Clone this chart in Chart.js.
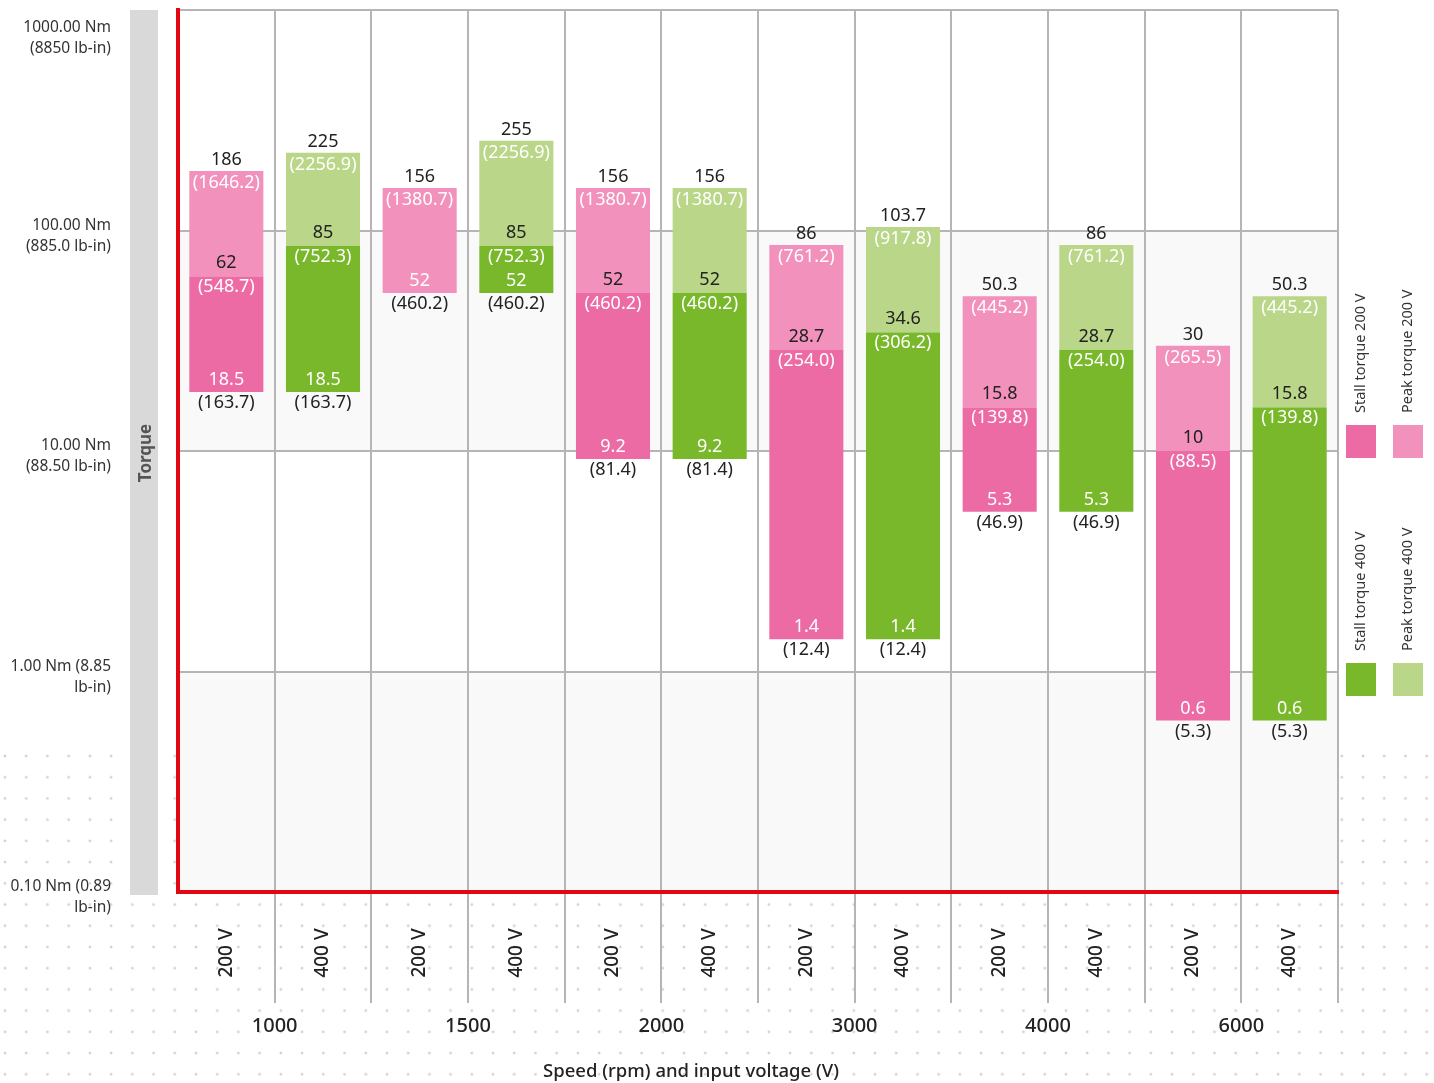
<!DOCTYPE html>
<html>
<head>
<meta charset="utf-8">
<script src="https://cdn.jsdelivr.net/npm/chart.js@4/dist/chart.umd.min.js"></script>
<style>
body { margin: 0; background: #fff; }
#wrap { position: relative; width: 1434px; height: 1083px; }
#dots {
    position: absolute; left: 0; top: 745px; width: 1434px; height: 338px;
    background-image: radial-gradient(circle, #d2d2d2 1.1px, transparent 1.7px);
    background-size: 21.23px 21.23px;
    background-position: -5.6px 0.4px;
}
canvas { position: absolute; left: 0; top: 0; }
</style>
</head>
<body>
<div id="wrap">
    <div id="dots"></div>
    <canvas id="torque-chart" width="1434" height="1083"></canvas>
</div>
<script>
// categories
const voltages = ['200 V','400 V','200 V','400 V','200 V','400 V','200 V','400 V','200 V','400 V','200 V','400 V'];
const speeds = ['1000','1500','2000','3000','4000','6000'];

// torque in Nm
const stallMin = [18.5, 18.5, 52, 52, 9.2, 9.2, 1.4, 1.4, 5.3, 5.3, 0.6, 0.6];
const stallMax = [62, 85, 52, 85, 52, 52, 28.7, 34.6, 15.8, 28.7, 10, 15.8];
const peak     = [186, 225, 156, 255, 156, 156, 86, 103.7, 50.3, 86, 30, 50.3];

// same values in lb-in
const stallMinLb = [163.7, 163.7, 460.2, 460.2, 81.4, 81.4, 12.4, 12.4, 46.9, 46.9, 5.3, 5.3];
const stallMaxLb = [548.7, 752.3, 460.2, 752.3, 460.2, 460.2, 254.0, 306.2, 139.8, 254.0, 88.5, 139.8];
const peakLb     = [1646.2, 2256.9, 1380.7, 2256.9, 1380.7, 1380.7, 761.2, 917.8, 445.2, 761.2, 265.5, 445.2];

const yTicks = [0.1, 1, 10, 100, 1000];
const yTickLabels = [
    ['0.10 Nm (0.89', 'lb-in)'],
    ['1.00 Nm (8.85', 'lb-in)'],
    ['10.00 Nm', '(88.50 lb-in)'],
    ['100.00 Nm', '(885.0 lb-in)'],
    ['1000.00 Nm', '(8850 lb-in)']
];
const legendLabels = ['Stall torque 200 V', 'Peak torque 200 V', 'Stall torque 400 V', 'Peak torque 400 V'];

const PINK_DARK = '#ec6ba5', PINK_LIGHT = '#f291bb', GREEN_DARK = '#78b82a', GREEN_LIGHT = '#b9d689';
const TXT = '#222';
const FONT = '"Noto Sans", sans-serif';

const is200 = i => voltages[i] === '200 V';
function rangeData(lo, hi, want200) {
    return voltages.map((v, i) => (is200(i) === want200 && lo[i] < hi[i]) ? [lo[i], hi[i]] : null);
}

const decor = {
    id: 'decor',
    beforeDraw(chart) {
        const {ctx, chartArea: a, scales: {y}} = chart;
        ctx.save();
        ctx.fillStyle = '#fff';
        ctx.fillRect(a.left, a.top, a.right - a.left, a.bottom - a.top);
        ctx.fillStyle = '#f9f9f9';
        [[10, 100], [0.1, 1]].forEach(([lo, hi]) => {
            const t = y.getPixelForValue(hi), b = y.getPixelForValue(lo);
            ctx.fillRect(a.left, t, a.right - a.left, b - t);
        });
        // grey band with axis title
        ctx.fillStyle = '#d9d9d9';
        ctx.fillRect(130, a.top, 28, a.bottom + 3 - a.top);
        ctx.save();
        ctx.translate(146, (a.top + a.bottom) / 2 + 2);
        ctx.rotate(-Math.PI / 2);
        ctx.fillStyle = '#555';
        ctx.font = 'bold 17px ' + FONT;
        ctx.textAlign = 'center'; ctx.textBaseline = 'middle';
        ctx.fillText('Torque', 0, 0);
        ctx.restore();
        // y tick labels
        ctx.font = '15.5px ' + FONT;
        ctx.fillStyle = '#333';
        ctx.textAlign = 'right'; ctx.textBaseline = 'middle';
        yTicks.forEach((v, i) => {
            let py = y.getPixelForValue(v) - 5;
            if (py < 28) py = 28;
            ctx.fillText(yTickLabels[i][0], 111, py);
            ctx.fillText(yTickLabels[i][1], 111, py + 21);
        });
        ctx.restore();
    },
    afterDraw(chart) {
        const {ctx, chartArea: a, scales: {x}} = chart;
        ctx.save();
        ctx.fillStyle = TXT;
        ctx.textAlign = 'center'; ctx.textBaseline = 'middle';
        // voltage labels
        ctx.font = '500 19px ' + FONT;
        voltages.forEach((v, i) => {
            ctx.save();
            ctx.translate(x.getPixelForValue(i), 953);
            ctx.rotate(-Math.PI / 2);
            ctx.fillText(v, 0, 0);
            ctx.restore();
        });
        // speed groups
        ctx.font = '500 20px ' + FONT;
        speeds.forEach((s, g) => {
            const cx = (x.getPixelForValue(g * 2) + x.getPixelForValue(g * 2 + 1)) / 2;
            ctx.fillText(s, cx, 1026);
        });
        ctx.font = '500 18.5px ' + FONT;
        ctx.fillText('Speed (rpm) and input voltage (V)', 691, 1072);

        // legend
        const colors = [PINK_DARK, PINK_LIGHT, GREEN_DARK, GREEN_LIGHT];
        const lx = [a.right + 8, a.right + 55, a.right + 8, a.right + 55];
        const ly = [425, 425, 663, 663];
        ctx.font = '14.5px ' + FONT;
        ctx.textAlign = 'left';
        legendLabels.forEach((t, i) => {
            ctx.fillStyle = colors[i];
            ctx.fillRect(lx[i], ly[i], 30, 33);
            ctx.save();
            ctx.translate(lx[i] + 15, ly[i] - 12);
            ctx.rotate(-Math.PI / 2);
            ctx.fillStyle = '#333';
            ctx.fillText(t, 0, 0);
            ctx.restore();
        });
        ctx.restore();
    }
};

const valueLabels = {
    id: 'valueLabels',
    afterDatasetsDraw(chart) {
        const {ctx, scales: {x, y}} = chart;
        ctx.save();
        ctx.font = '18px ' + FONT;
        ctx.textAlign = 'center'; ctx.textBaseline = 'middle';
        voltages.forEach((v, i) => {
            const cx = x.getPixelForValue(i);
            const put = (t, py, c) => { ctx.fillStyle = c; ctx.fillText(t, cx, py); };
            const yTop = y.getPixelForValue(peak[i]);
            const yMid = y.getPixelForValue(stallMax[i]);
            const yBot = y.getPixelForValue(stallMin[i]);
            put(String(peak[i]), yTop - 11, TXT);
            put('(' + peakLb[i].toFixed(1) + ')', yTop + 12, '#fff');
            if (stallMin[i] < stallMax[i]) {
                put(String(stallMax[i]), yMid - 13, TXT);
                put('(' + stallMaxLb[i].toFixed(1) + ')', yMid + 11, '#fff');
            }
            put(String(stallMin[i]), yBot - 12, '#fff');
            put('(' + stallMinLb[i].toFixed(1) + ')', yBot + 11, TXT);
        });
        ctx.restore();
    }
};

const ctx = document.getElementById('torque-chart').getContext('2d');
new Chart(ctx, {
    type: 'bar',
    data: {
        labels: voltages,
        datasets: [
            {label: legendLabels[1], data: rangeData(stallMax, peak, true), backgroundColor: PINK_LIGHT},
            {label: legendLabels[0], data: rangeData(stallMin, stallMax, true), backgroundColor: PINK_DARK},
            {label: legendLabels[3], data: rangeData(stallMax, peak, false), backgroundColor: GREEN_LIGHT},
            {label: legendLabels[2], data: rangeData(stallMin, stallMax, false), backgroundColor: GREEN_DARK}
        ]
    },
    options: {
        responsive: false,
        animation: false,
        layout: {padding: {left: 178, top: 10, right: 96, bottom: 191}},
        plugins: {legend: {display: false}, tooltip: {enabled: false}},
        datasets: {bar: {grouped: false, barPercentage: 0.766, categoryPercentage: 1}},
        scales: {
            x: {
                ticks: {display: false},
                grid: {
                    offset: true,
                    lineWidth: 2,
                    color: c => c.index === 0 ? 'rgba(0,0,0,0)' : '#b5b5b5',
                    tickColor: c => c.index === 0 ? 'rgba(0,0,0,0)' : '#b5b5b5',
                    drawTicks: true,
                    tickLength: 111
                },
                border: {color: '#e30613', width: 4},
                afterFit: s => { s.height = 0; }
            },
            y: {
                type: 'logarithmic',
                min: 0.1,
                max: 1000,
                afterBuildTicks: s => { s.ticks = yTicks.map(v => ({value: v})); },
                ticks: {display: false},
                grid: {color: '#b5b5b5', lineWidth: 2, drawTicks: false},
                border: {color: '#e30613', width: 4},
                afterFit: s => { s.width = 0; }
            }
        }
    },
    plugins: [decor, valueLabels]
});
</script>
</body>
</html>
